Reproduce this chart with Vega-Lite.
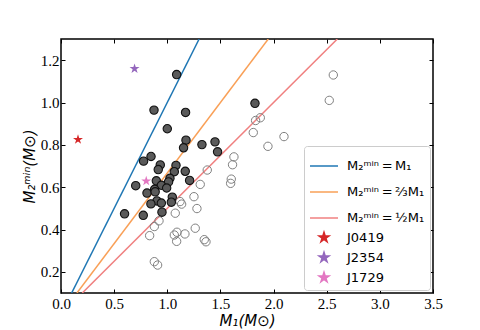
{
  "$schema": "https://vega.github.io/schema/vega-lite/v6.json",
  "width": 372,
  "height": 254,
  "autosize": {"type": "none"},
  "padding": {"left": 61, "top": 39, "right": 47, "bottom": 37},
  "background": "white",
  "config": {
    "view": {"stroke": "black", "strokeWidth": 1.5},
    "axis": {
      "domain": false, "grid": false, "ticks": true, "tickColor": "black", "tickSize": -4, "tickWidth": 1,
      "labelFont": "Liberation Serif", "labelFontSize": 15, "labelColor": "black", "labelFlush": false, "labelOverlap": false,
      "titleFont": "DejaVu Sans", "titleFontSize": 15, "titleFontStyle": "italic", "titleFontWeight": "normal", "titleColor": "black"
    },
    "legend": {
      "orient": "none", "legendX": 243, "legendY": 107,
      "fillColor": "white", "strokeColor": "#cccccc", "cornerRadius": 3, "padding": 5,
      "labelFont": "DejaVu Sans", "labelFontSize": 13, "labelColor": "black", "labelOffset": 8, "rowPadding": 4
    }
  },
  "datasets": {
    "lines": [
      {"x": 0.1, "y": 0.1, "series": "M₂ᵐⁱⁿ\u2009=\u2009M₁"},
      {"x": 1.3, "y": 1.3, "series": "M₂ᵐⁱⁿ\u2009=\u2009M₁"},
      {"x": 0.15, "y": 0.1, "series": "M₂ᵐⁱⁿ\u2009=\u2009⅔M₁"},
      {"x": 1.95, "y": 1.3, "series": "M₂ᵐⁱⁿ\u2009=\u2009⅔M₁"},
      {"x": 0.2, "y": 0.1, "series": "M₂ᵐⁱⁿ\u2009=\u2009½M₁"},
      {"x": 2.6, "y": 1.3, "series": "M₂ᵐⁱⁿ\u2009=\u2009½M₁"}
    ],
    "open": [
      {"x": 2.562, "y": 1.13}, {"x": 2.524, "y": 1.01}, {"x": 1.875, "y": 0.928}, {"x": 1.831, "y": 0.915},
      {"x": 1.809, "y": 0.858}, {"x": 2.098, "y": 0.839}, {"x": 1.947, "y": 0.793}, {"x": 1.627, "y": 0.743},
      {"x": 1.614, "y": 0.706}, {"x": 1.602, "y": 0.638}, {"x": 1.596, "y": 0.618}, {"x": 1.376, "y": 0.681},
      {"x": 1.31, "y": 0.613}, {"x": 1.251, "y": 0.555}, {"x": 1.279, "y": 0.499}, {"x": 1.135, "y": 0.52},
      {"x": 1.12, "y": 0.532}, {"x": 1.075, "y": 0.477}, {"x": 0.922, "y": 0.441}, {"x": 0.878, "y": 0.414},
      {"x": 0.834, "y": 0.371}, {"x": 1.066, "y": 0.374}, {"x": 1.091, "y": 0.387}, {"x": 1.088, "y": 0.344},
      {"x": 1.166, "y": 0.379}, {"x": 1.263, "y": 0.406}, {"x": 1.348, "y": 0.352}, {"x": 1.364, "y": 0.342},
      {"x": 0.878, "y": 0.248}, {"x": 0.909, "y": 0.232}
    ],
    "filled": [
      {"x": 1.088, "y": 1.132}, {"x": 0.875, "y": 0.964}, {"x": 1.172, "y": 0.953}, {"x": 1.0, "y": 0.876},
      {"x": 1.176, "y": 0.822}, {"x": 1.153, "y": 0.786}, {"x": 1.326, "y": 0.801}, {"x": 1.449, "y": 0.814},
      {"x": 1.473, "y": 0.767}, {"x": 1.825, "y": 0.996}, {"x": 0.847, "y": 0.745}, {"x": 0.777, "y": 0.723},
      {"x": 0.934, "y": 0.705}, {"x": 0.915, "y": 0.683}, {"x": 1.082, "y": 0.703}, {"x": 1.066, "y": 0.673},
      {"x": 1.169, "y": 0.675}, {"x": 1.21, "y": 0.632}, {"x": 1.025, "y": 0.642}, {"x": 1.012, "y": 0.625},
      {"x": 0.897, "y": 0.63}, {"x": 0.944, "y": 0.609}, {"x": 0.994, "y": 0.596}, {"x": 0.703, "y": 0.607},
      {"x": 0.881, "y": 0.59}, {"x": 0.809, "y": 0.572}, {"x": 0.886, "y": 0.578}, {"x": 1.047, "y": 0.553},
      {"x": 1.038, "y": 0.529}, {"x": 0.903, "y": 0.535}, {"x": 0.944, "y": 0.525}, {"x": 0.846, "y": 0.521},
      {"x": 0.95, "y": 0.482}, {"x": 0.598, "y": 0.474}, {"x": 0.774, "y": 0.467}
    ],
    "stars": [
      {"x": 0.16, "y": 0.825, "series": "J0419"},
      {"x": 0.692, "y": 1.16, "series": "J2354"},
      {"x": 0.802, "y": 0.629, "series": "J1729"}
    ]
  },
  "layer": [
    {
      "data": {"name": "lines"},
      "mark": {"type": "line", "strokeWidth": 1.5, "clip": true},
      "encoding": {
        "x": {"field": "x", "type": "quantitative", "scale": {"domain": [0, 3.5], "nice": false, "zero": false},
              "axis": {"orient": "bottom", "values": [0, 0.5, 1, 1.5, 2, 2.5, 3, 3.5], "format": ".1f", "labelPadding": 7, "title": "M₁(M⊙)", "titlePadding": 2}},
        "y": {"field": "y", "type": "quantitative", "scale": {"domain": [0.1, 1.3], "nice": false, "zero": false},
              "axis": {"orient": "left", "values": [0.2, 0.4, 0.6, 0.8, 1.0, 1.2], "format": ".1f", "labelPadding": 6, "title": "M₂ᵐⁱⁿ(M⊙)", "titlePadding": 3}},
        "color": {"field": "series", "type": "nominal", "title": null,
          "scale": {"domain": ["M₂ᵐⁱⁿ\u2009=\u2009M₁", "M₂ᵐⁱⁿ\u2009=\u2009⅔M₁", "M₂ᵐⁱⁿ\u2009=\u2009½M₁", "J0419", "J2354", "J1729"],
                    "range": ["#1f77b4", "#f9a057", "#f08080", "#d62728", "#9467bd", "#e377c2"]}}
      }
    },
    {
      "data": {"name": "open"},
      "mark": {"type": "point", "filled": false, "shape": "circle", "size": 70, "stroke": "#808080", "strokeWidth": 1, "opacity": 1},
      "encoding": {
        "x": {"field": "x", "type": "quantitative", "scale": {"domain": [0, 3.5], "nice": false, "zero": false},
              "axis": {"orient": "top", "values": [0, 0.5, 1, 1.5, 2, 2.5, 3, 3.5], "labels": false, "title": null}},
        "y": {"field": "y", "type": "quantitative", "scale": {"domain": [0.1, 1.3], "nice": false, "zero": false},
              "axis": {"orient": "right", "values": [0.2, 0.4, 0.6, 0.8, 1.0, 1.2], "labels": false, "title": null}}
      }
    },
    {
      "data": {"name": "filled"},
      "mark": {"type": "point", "filled": true, "shape": "circle", "size": 70, "fill": "#5a5a5a", "stroke": "#111111", "strokeWidth": 1.1, "opacity": 1},
      "encoding": {
        "x": {"field": "x", "type": "quantitative", "axis": null},
        "y": {"field": "y", "type": "quantitative", "axis": null}
      }
    },
    {
      "data": {"name": "stars"},
      "mark": {"type": "point", "filled": true, "opacity": 1},
      "encoding": {
        "x": {"field": "x", "type": "quantitative", "axis": null},
        "y": {"field": "y", "type": "quantitative", "axis": null},
        "color": {"field": "series", "type": "nominal", "title": null,
          "legend": {
            "encode": {"symbols": {"update": {
              "stroke": {"signal": "datum.index < 3 ? scale('color', datum.value) : 'transparent'"},
              "strokeWidth": {"value": 1.5},
              "opacity": {"value": 1}
            }}}
          }},
        "shape": {"field": "series", "type": "nominal", "title": null,
          "scale": {"domain": ["M₂ᵐⁱⁿ\u2009=\u2009M₁", "M₂ᵐⁱⁿ\u2009=\u2009⅔M₁", "M₂ᵐⁱⁿ\u2009=\u2009½M₁", "J0419", "J2354", "J1729"],
                    "range": ["stroke", "stroke", "stroke",
                              "M0,-1L0.2245,-0.309L0.951,-0.309L0.3633,0.118L0.588,0.809L0,0.382L-0.588,0.809L-0.3633,0.118L-0.951,-0.309L-0.2245,-0.309Z",
                              "M0,-1L0.2245,-0.309L0.951,-0.309L0.3633,0.118L0.588,0.809L0,0.382L-0.588,0.809L-0.3633,0.118L-0.951,-0.309L-0.2245,-0.309Z",
                              "M0,-1L0.2245,-0.309L0.951,-0.309L0.3633,0.118L0.588,0.809L0,0.382L-0.588,0.809L-0.3633,0.118L-0.951,-0.309L-0.2245,-0.309Z"]}},
        "size": {"field": "series", "type": "nominal", "title": null,
          "scale": {"type": "ordinal", "domain": ["M₂ᵐⁱⁿ\u2009=\u2009M₁", "M₂ᵐⁱⁿ\u2009=\u2009⅔M₁", "M₂ᵐⁱⁿ\u2009=\u2009½M₁", "J0419", "J2354", "J1729"],
                    "range": [784, 784, 784, 110, 110, 110]}}
      }
    }
  ],
  "resolve": {"axis": {"x": "independent", "y": "independent"}}
}
